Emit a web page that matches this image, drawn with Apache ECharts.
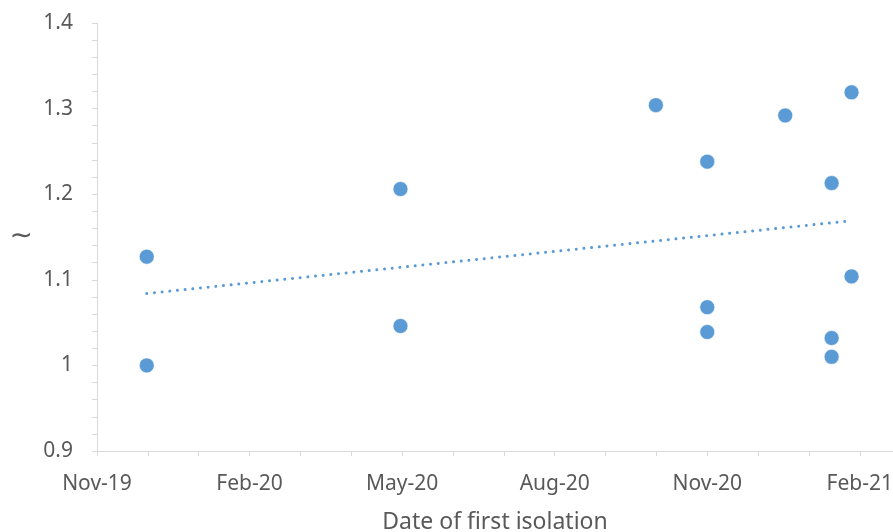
<!DOCTYPE html>
<html>
<head>
<meta charset="utf-8">
<script src="https://cdn.jsdelivr.net/npm/echarts@6/dist/echarts.min.js"></script>
<style>html,body{margin:0;padding:0;background:#fff;}#c{width:893px;height:532px;}</style>
</head>
<body>
<div id="c"></div>
<script>
// Data
var isolationDates = ['2019-12-01','2019-12-01','2020-05-02','2020-05-02','2020-10-03','2020-11-03','2020-11-03','2020-11-03','2020-12-20','2021-01-17','2021-01-17','2021-01-17','2021-01-29','2021-01-29'];
var sigmaValues = [1.127, 1.000, 1.206, 1.046, 1.304, 1.238, 1.068, 1.039, 1.292, 1.213, 1.032, 1.010, 1.319, 1.104];
var trendDates = ['2019-12-01', '2021-01-29'];
var trendValues = [1.084, 1.169];
var monthNames = ['Jan','Feb','Mar','Apr','May','Jun','Jul','Aug','Sep','Oct','Nov','Dec'];
var yTicks = [0.9, 1.4, 0.1];

var DAY = 86400000;
function ts(s){ var p = s.split('-'); return Date.UTC(+p[0], +p[1]-1, +p[2]); }
var xMin = Date.UTC(2019, 10, 1);
var xMajor = 92 * DAY;
var xStep = xMajor / 3;
var xMax = xMin + 480 * DAY;

var points = isolationDates.map(function(d, i){ return [ts(d), sigmaValues[i]]; });
var trend = trendDates.map(function(d, i){ return [ts(d), trendValues[i]]; });

var font = "'Noto Sans', sans-serif";
var chart = echarts.init(document.getElementById('c'));
chart.setOption({
  animation: false,
  backgroundColor: '#ffffff',
  grid: { left: 97, right: 0, top: 23, bottom: 81, containLabel: false, outerBoundsMode: 'none' },
  xAxis: {
    type: 'value', min: xMin, max: xMax, interval: xStep,
    name: 'Date of first isolation', nameLocation: 'middle', nameGap: 60,
    nameTextStyle: { fontFamily: font, fontSize: 23, color: '#595959' },
    axisLine: { show: true, lineStyle: { color: '#d9d9d9', width: 1 } },
    axisTick: { show: true, length: 5, lineStyle: { color: '#d9d9d9' } },
    splitLine: { show: false },
    axisLabel: {
      margin: 23, fontFamily: font, fontSize: 21, color: '#595959', showMaxLabel: false,
      formatter: function(v){
        var k = Math.round((v - xMin) / xStep);
        if (Math.abs(v - (xMin + k * xStep)) > DAY || k % 3 !== 0) return '';
        var d = new Date(xMin + (k / 3) * xMajor);
        return monthNames[d.getUTCMonth()] + '-' + String(d.getUTCFullYear()).slice(2);
      }
    }
  },
  yAxis: {
    type: 'value', min: yTicks[0], max: yTicks[1], interval: yTicks[2],
    name: '\u223C', nameLocation: 'middle', nameGap: 64, nameRotate: 0,
    nameTextStyle: { fontFamily: 'DejaVu Sans', fontSize: 28, color: '#595959', padding: [6, 0, 0, 0] },
    axisLine: { show: true, lineStyle: { color: '#d9d9d9', width: 1 } },
    axisTick: { show: true, length: 5, lineStyle: { color: '#d9d9d9' } },
    minorTick: { show: true, splitNumber: 5, length: 5, lineStyle: { color: '#d9d9d9' } },
    splitLine: { show: false },
    axisLabel: {
      margin: 24, fontFamily: font, fontSize: 21, color: '#595959',
      formatter: function(v){ return String(parseFloat(v.toFixed(2))); }
    }
  },
  series: [
    {
      type: 'line', data: trend, symbol: 'none', silent: true,
      lineStyle: { color: '#5B9BD5', width: 3, type: [0.01, 7.7], cap: 'round' },
      z: 1
    },
    {
      type: 'scatter', data: points, symbolSize: 15,
      itemStyle: { color: '#5B9BD5', borderColor: '#ffffff', borderWidth: 0.6, opacity: 1 },
      z: 2
    }
  ]
});
</script>
</body>
</html>
